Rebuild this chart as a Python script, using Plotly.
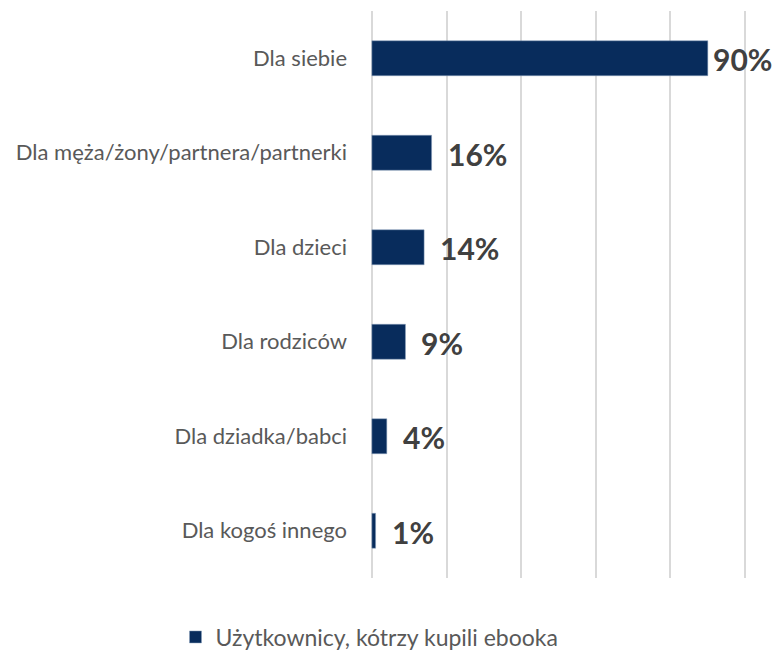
import plotly.graph_objects as go

categories = ["Dla siebie", "Dla męża/żony/partnera/partnerki", "Dla dzieci",
              "Dla rodziców", "Dla dziadka/babci", "Dla kogoś innego"]
values = [90, 16, 14, 9, 4, 1]
labels = ["90%", "16%", "14%", "9%", "4%", "1%"]
series_name = "Użytkownicy, kótrzy kupili ebooka"

fig = go.Figure()
fig.add_trace(go.Bar(
    y=categories, x=values, orientation="h", name=series_name,
    marker=dict(color="#082c5c", line=dict(color="#8aa0bd", width=0.5)),
    width=0.37, showlegend=True,
))

# value labels (Excel put them a bit further out than plotly's "outside")
for i, (c, v, t) in enumerate(zip(categories, values, labels)):
    fig.add_annotation(x=v, y=c, text="<b>" + t + "</b>", showarrow=False,
                       xanchor="left", xshift=3 if i == 0 else 14, yshift=-1,
                       font=dict(size=30, color="#404040"))

fig.update_layout(
    width=773, height=655,
    margin=dict(l=370, r=26, t=11, b=77),
    plot_bgcolor="white", paper_bgcolor="white",
    font=dict(family="Lato, 'Open Sans', sans-serif", color="#595959"),
    bargap=0.63,
    legend=dict(orientation="h", xref="container", yref="container",
                x=0.478, xanchor="center", y=0.0275, yanchor="middle",
                font=dict(size=23, color="#595959"), itemwidth=30),
)
# range padded a hair so the 0 and 100 gridlines are not clipped
fig.update_xaxes(range=[-0.5, 100.5], dtick=20, showgrid=True, gridcolor="#d9d9d9",
                 gridwidth=2, showticklabels=False, zeroline=False)
fig.update_yaxes(autorange="reversed", tickfont=dict(size=22, color="#595959"),
                 ticklabelstandoff=22, showline=False)

fig.write_html("out.html", config={"displayModeBar": False},
               post_script="document.body.style.margin='0';")
